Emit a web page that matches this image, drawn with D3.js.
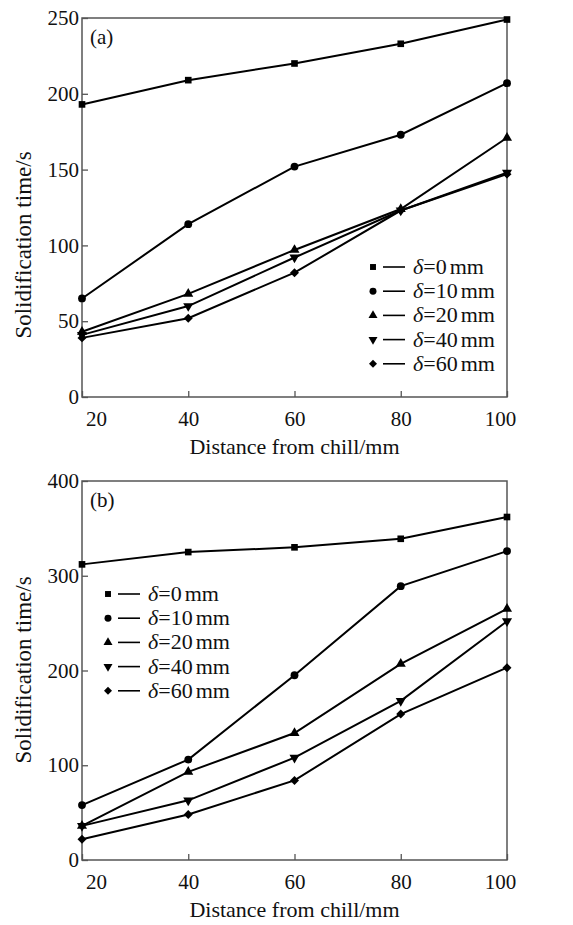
<!DOCTYPE html>
<html><head><meta charset="utf-8">
<script src="https://cdn.jsdelivr.net/npm/d3@7/dist/d3.min.js"></script>
<style>body{margin:0;background:#fff}svg{display:block}</style>
</head><body>
<svg id="c" width="573" height="925"></svg>
<script>
const xValues = [20, 40, 60, 80, 100];
const seriesLabels = ["0", "10", "20", "40", "60"];
// Panel (a)
const a_d0  = [193, 209, 220, 233, 249];
const a_d10 = [65, 114, 152, 173, 207];
const a_d20 = [43, 68, 97, 124, 171];
const a_d40 = [41, 60, 92, 123, 148];
const a_d60 = [39, 52, 82, 123, 147];
const aYTicks = [0, 50, 100, 150, 200, 250];
// Panel (b)
const b_d0  = [312, 325, 330, 339, 362];
const b_d10 = [58, 106, 195, 289, 326];
const b_d20 = [36, 93, 134, 207, 265];
const b_d40 = [36, 63, 108, 168, 252];
const b_d60 = [22, 48, 84, 154, 203];
const bYTicks = [0, 100, 200, 300, 400];
const xTicks = [20, 40, 60, 80, 100];

const svg = d3.select("#c");
const FONT = "'Liberation Serif','Times New Roman',serif";
const symbols = [
  {type: d3.symbolSquare, size: 44, rot: 0},
  {type: d3.symbolCircle, size: 48, rot: 0},
  {type: d3.symbolTriangle, size: 44, rot: 0},
  {type: d3.symbolTriangle, size: 44, rot: 180},
  {type: d3.symbolSquare, size: 40, rot: 45}
];

function panel(cfg) {
  const x = d3.scaleLinear().domain([20, 100]).range([cfg.left, cfg.right]);
  const y = d3.scaleLinear().domain([0, cfg.ymax]).range([cfg.bottom, cfg.top]);
  const g = svg.append("g");
  g.append("rect").attr("x", cfg.left).attr("y", cfg.top)
    .attr("width", cfg.right - cfg.left).attr("height", cfg.bottom - cfg.top)
    .attr("fill", "none").attr("stroke", "#555").attr("stroke-width", 1.5);
  const xa = g.append("g").attr("transform", `translate(0,${cfg.bottom})`)
    .call(d3.axisBottom(x).tickValues(xTicks).tickSizeInner(-6).tickSizeOuter(0).tickPadding(14));
  xa.select(".domain").remove();
  xa.selectAll(".tick line").attr("stroke", "#555").attr("stroke-width", 1.3);
  xa.selectAll(".tick text").attr("font-family", FONT).attr("font-size", 21).attr("fill", "#111")
    .attr("dx", d => d === 20 ? 14 : (d === 100 ? -7 : 0));
  const ya = g.append("g").attr("transform", `translate(${cfg.left},0)`)
    .call(d3.axisLeft(y).tickValues(cfg.yTicks).tickSizeInner(-6).tickSizeOuter(0).tickPadding(3));
  ya.select(".domain").remove();
  ya.selectAll(".tick line").attr("stroke", "#555").attr("stroke-width", 1.3);
  ya.selectAll(".tick text").attr("font-family", FONT).attr("font-size", 21).attr("fill", "#111");

  const line = d3.line().x((d, i) => x(xValues[i])).y(d => y(d));
  cfg.series.forEach(s => {
    g.append("path").attr("d", line(s)).attr("fill", "none")
      .attr("stroke", "#000").attr("stroke-width", 2);
  });
  cfg.series.forEach((s, k) => {
    const sym = symbols[k];
    g.selectAll(null).data(s).enter().append("path")
      .attr("d", d3.symbol().type(sym.type).size(sym.size))
      .attr("transform", (d, i) => `translate(${x(xValues[i])},${y(d)}) rotate(${sym.rot})`)
      .attr("fill", "#000");
  });
  g.append("text").attr("x", (cfg.left + cfg.right) / 2).attr("y", cfg.bottom + 57)
    .attr("text-anchor", "middle").attr("font-family", FONT).attr("font-size", 22).attr("fill", "#111")
    .text("Distance from chill/mm");
  g.append("text").attr("transform", `translate(31,${cfg.yLabelY}) rotate(-90)`)
    .attr("text-anchor", "middle").attr("font-family", FONT).attr("font-size", 23).attr("fill", "#111")
    .text("Solidification time/s");
  g.append("text").attr("x", cfg.left + 8).attr("y", cfg.top + 26)
    .attr("font-family", FONT).attr("font-size", 21).attr("fill", "#111").text(cfg.tag);
  seriesLabels.forEach((lab, k) => {
    const cy = cfg.legY + k * 24.2;
    const sym = symbols[k];
    g.append("path").attr("d", d3.symbol().type(sym.type).size(sym.size * 0.8))
      .attr("transform", `translate(${cfg.legX},${cy}) rotate(${sym.rot})`).attr("fill", "#000");
    g.append("line").attr("x1", cfg.legX + 10).attr("x2", cfg.legX + 32)
      .attr("y1", cy).attr("y2", cy).attr("stroke", "#000").attr("stroke-width", 1.6);
    const t = g.append("text").attr("x", cfg.legX + 40).attr("y", cy + 7)
      .attr("font-family", FONT).attr("font-size", 22).attr("fill", "#111");
    t.append("tspan").attr("font-style", "italic").text("δ");
    t.append("tspan").text("=" + lab);
    t.append("tspan").attr("dx", 3).text("mm");
  });
}

panel({left: 82, right: 507, top: 18, bottom: 397, ymax: 250, yTicks: aYTicks,
  series: [a_d0, a_d10, a_d20, a_d40, a_d60], tag: "(a)", legX: 373, legY: 267, yLabelY: 245});
panel({left: 82, right: 507, top: 481, bottom: 860, ymax: 400, yTicks: bYTicks,
  series: [b_d0, b_d10, b_d20, b_d40, b_d60], tag: "(b)", legX: 108, legY: 594, yLabelY: 670});
</script>
</body></html>
